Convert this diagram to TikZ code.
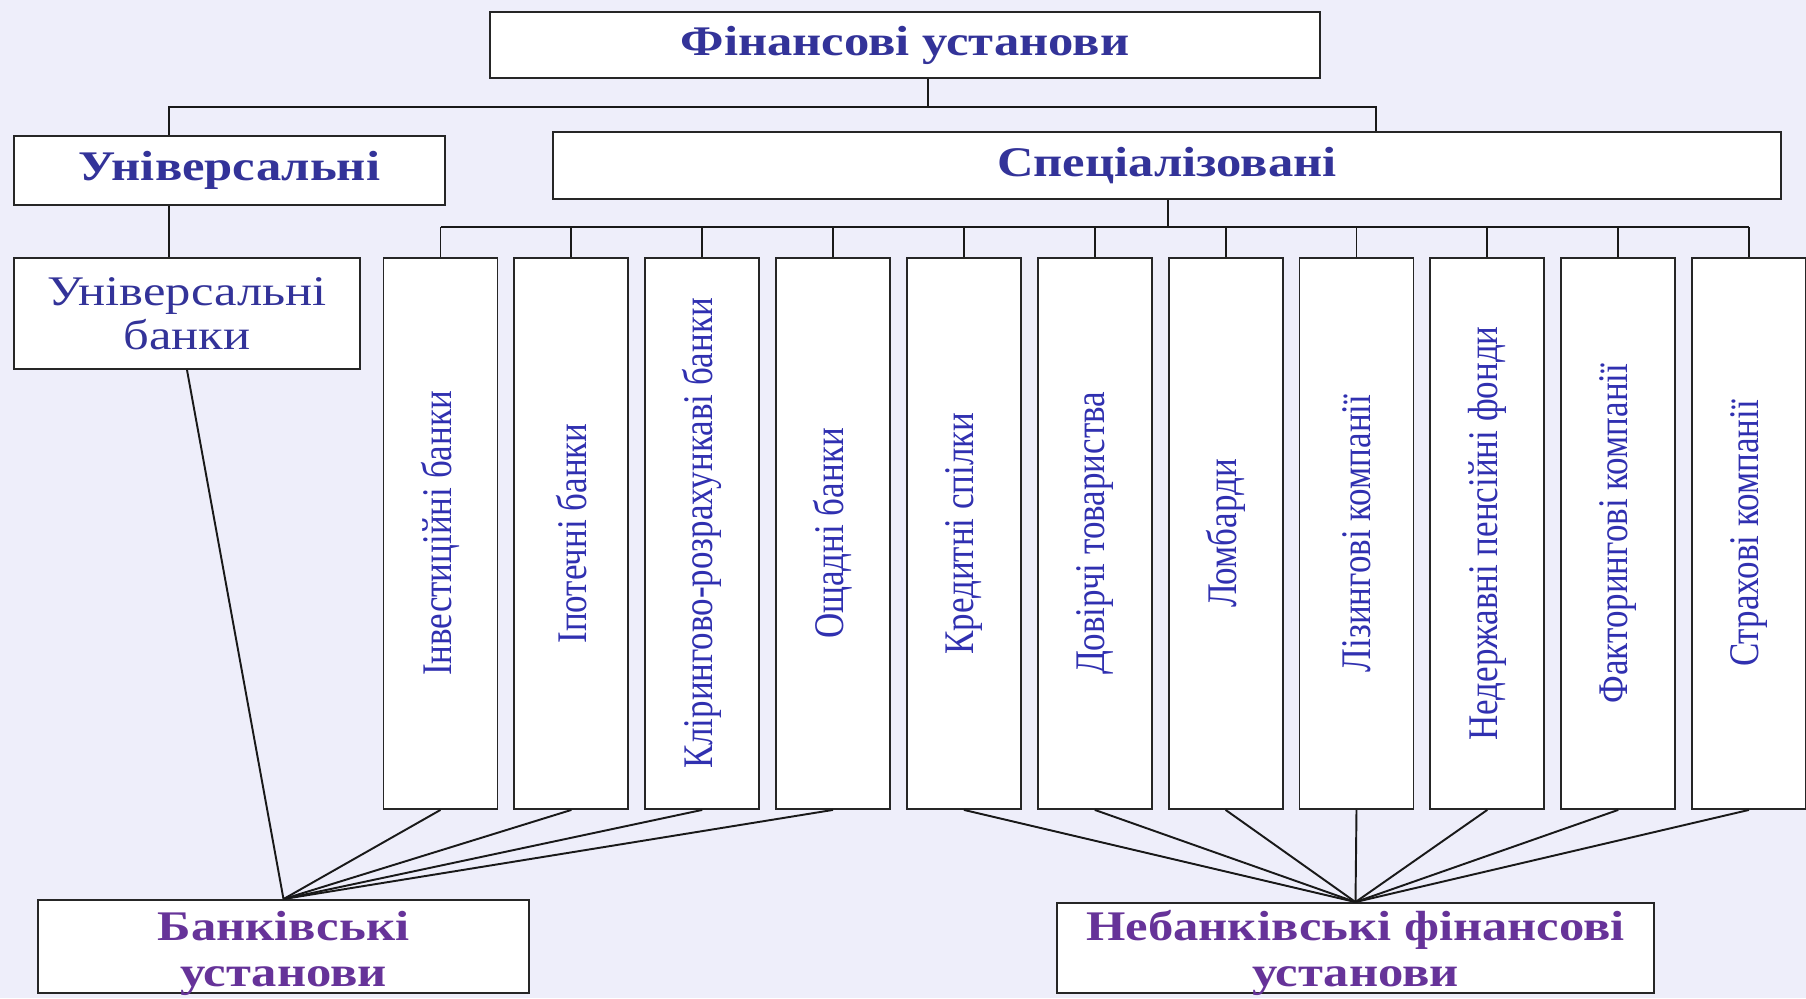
\documentclass[tikz,border=0pt]{standalone}
\usepackage{fontspec}
\setmainfont{Liberation Serif}
\newfontfamily\widefont[FakeStretch=1.2]{Liberation Serif}
\newfontfamily\narrowfont[FakeStretch=0.83]{Liberation Serif}

\definecolor{bgcol}{HTML}{EEEEFA}
\definecolor{headblue}{HTML}{333399}
\definecolor{colblue}{HTML}{3030B0}
\definecolor{instpurple}{HTML}{663399}

\tikzset{
  box/.style={draw=black!85, line width=1.1pt, fill=white, inner sep=0pt, align=center},
  head/.style={box, text=headblue, font=\widefont\bfseries\fontsize{24}{26}\selectfont},
  col/.style={box, rotate=90, minimum width=11.02cm, minimum height=2.28cm,
    text=colblue, font=\narrowfont\fontsize{24}{26}\selectfont},
  grouptext/.style={align=center, inner sep=0pt, text=instpurple,
    font=\widefont\bfseries\fontsize{24}{26}\selectfont},
  link/.style={line width=1.1pt, black!90},
}

\begin{document}
\begin{tikzpicture}[x=0.02cm, y=-0.02cm]
    % Background and page size
    \path[use as bounding box, fill=bgcol] (0,0) rectangle (1806,998);

    % Top levels
    \node (fin) [head, minimum width=16.6cm, minimum height=1.32cm] at (905,45) {Фінансові установи};
    \node (univ) [head, minimum width=8.62cm, minimum height=1.38cm] at (229.5,170.5) {Універсальні};
    \node (spec) [head, minimum width=24.56cm, minimum height=1.34cm] at (1167,165.5) {Спеціалізовані};
    \node (ubank) [box, text=headblue, font=\widefont\fontsize{24}{25}\selectfont,
        minimum width=6.92cm, minimum height=2.22cm] at (187,313.5) {Універсальні\\банки};

    % Specialised institutions, rotated (east = top, west = bottom)
    \node (invest) [col] at (440.5,533.5) {Інвестиційні банки};
    \node (mortgage) [col] at (571.4,533.5) {Іпотечні банки};
    \node (clearing) [col] at (702.2,533.5) {Клірингово-розрахункаві банки};
    \node (savings) [col] at (833,533.5) {Ощадні банки};
    \node (credit) [col] at (963.9,533.5) {Кредитні спілки};
    \node (trust) [col] at (1094.8,533.5) {Довірчі товариства};
    \node (pawn) [col] at (1225.6,533.5) {Ломбарди};
    \node (leasing) [col] at (1356.5,533.5) {Лізингові компанії};
    \node (pension) [col] at (1487.3,533.5) {Недержавні пенсійні фонди};
    \node (factoring) [col] at (1618.2,533.5) {Факторингові компанії};
    \node (insurance) [col] at (1749,533.5) {Страхові компанії};

    % Bottom groups, text set a little below the centre
    \node (bank) [box, minimum width=9.82cm, minimum height=1.86cm] at (283.5,946.5) {};
    \node (banktxt) [grouptext] at ([yshift=-4pt]bank.center) {Банківські\\установи};
    \node (nonbank) [box, minimum width=11.94cm, minimum height=1.8cm] at (1355.5,948) {};
    \node (nonbanktxt) [grouptext] at ([yshift=-3pt]nonbank.center) {Небанківські фінансові\\установи};

    % Tree from the top box
    \coordinate (split) at (928,107);
    \coordinate (ul) at (169,107);
    \coordinate (ur) at (1376,107);
    \draw[link] (fin.south -| split) -- (split);
    \draw[link] (univ.north -| ul) -- (ul) -- (ur) -- (spec.north -| ur);
    \draw[link] (univ.south -| ul) -- (ubank.north -| ul);

    % Bus under the specialised box
    \coordinate (bus) at (1168,227);
    \draw[link] (spec.south -| bus) -- (bus);
    \draw[link] (invest.east |- bus) -- (insurance.east |- bus);
    \draw[link] (invest.east) -- (invest.east |- bus);
    \draw[link] (mortgage.east) -- (mortgage.east |- bus);
    \draw[link] (clearing.east) -- (clearing.east |- bus);
    \draw[link] (savings.east) -- (savings.east |- bus);
    \draw[link] (credit.east) -- (credit.east |- bus);
    \draw[link] (trust.east) -- (trust.east |- bus);
    \draw[link] (pawn.east) -- (pawn.east |- bus);
    \draw[link] (leasing.east) -- (leasing.east |- bus);
    \draw[link] (pension.east) -- (pension.east |- bus);
    \draw[link] (factoring.east) -- (factoring.east |- bus);
    \draw[link] (insurance.east) -- (insurance.east |- bus);

    % Fan into the banking institutions
    \draw[link] (ubank.south) -- (bank.north);
    \draw[link] (invest.west) -- (bank.north);
    \draw[link] (mortgage.west) -- (bank.north);
    \draw[link] (clearing.west) -- (bank.north);
    \draw[link] (savings.west) -- (bank.north);

    % Fan into the non-banking institutions
    \draw[link] (credit.west) -- (nonbank.north);
    \draw[link] (trust.west) -- (nonbank.north);
    \draw[link] (pawn.west) -- (nonbank.north);
    \draw[link] (leasing.west) -- (nonbank.north);
    \draw[link] (pension.west) -- (nonbank.north);
    \draw[link] (factoring.west) -- (nonbank.north);
    \draw[link] (insurance.west) -- (nonbank.north);
\end{tikzpicture}
\end{document}
